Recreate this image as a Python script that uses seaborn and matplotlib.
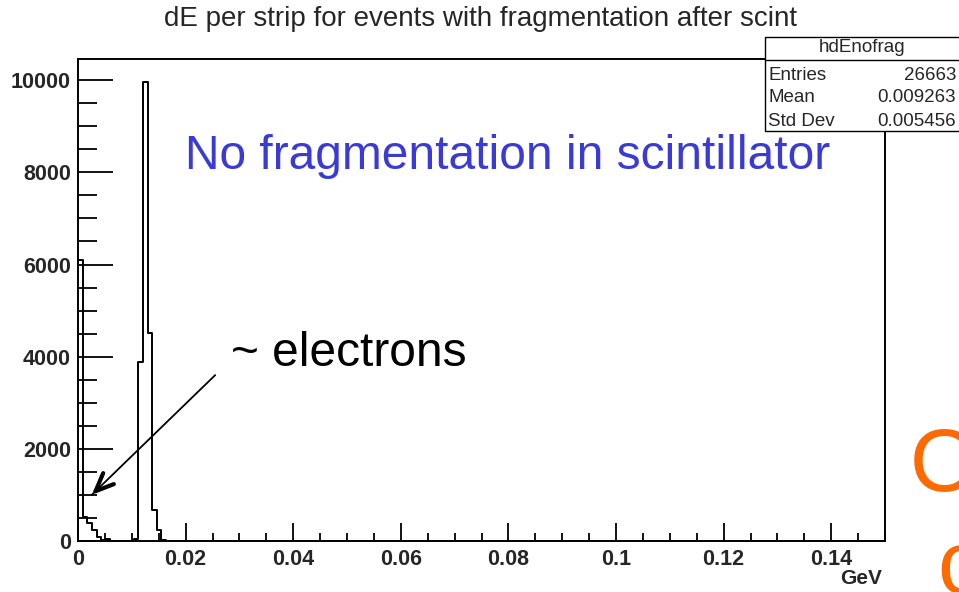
import numpy as np
import pandas as pd
import matplotlib
matplotlib.use("Agg")
import matplotlib.pyplot as plt
from matplotlib.patches import Rectangle
from matplotlib.ticker import MultipleLocator
import seaborn as sns

# ---- data ----
bin_width = 0.15 / 174          # GeV per bin
counts = [6100, 520, 380, 240, 90, 20, 40, 10, 10, 5, 0, 0, 40,
          3890, 9960, 4510, 670, 240, 20]
title = "dE per strip for events with fragmentation after scint"
x_label = "GeV"
x_ticks = [0, 0.02, 0.04, 0.06, 0.08, 0.1, 0.12, 0.14]
x_ticklabels = ["0", "0.02", "0.04", "0.06", "0.08", "0.1", "0.12", "0.14"]
y_ticks = [0, 2000, 4000, 6000, 8000, 10000]
stats_name = "hdEnofrag"
stats_rows = [("Entries", "26663"), ("Mean", "0.009263"), ("Std Dev", "0.005456")]

n_bins = 174
full_counts = np.zeros(n_bins)
full_counts[:len(counts)] = counts
centers = (np.arange(n_bins) + 0.5) * bin_width
df = pd.DataFrame({"E": centers, "w": full_counts})

sns.set_style("white")
plt.rcParams["font.family"] = ["Liberation Sans", "DejaVu Sans"]

W, H = 959, 592
fig = plt.figure(figsize=(W / 100, H / 100), dpi=100)
ax = fig.add_axes([78 / W, 1 - 541 / H, (885 - 78) / W, (541 - 59) / H])

sns.histplot(data=df, x="E", weights="w", binwidth=bin_width,
             binrange=(0, n_bins * bin_width), element="step",
             fill=False, color="black", linewidth=1.4, ax=ax)

ax.set_xlim(0, 0.15)
ax.set_ylim(0, 10460)
ax.set_xlabel("")
ax.set_ylabel("")
for s in ax.spines.values():
    s.set_linewidth(1.4)
    s.set_color("black")

ax.set_xticks(x_ticks)
ax.set_xticklabels(x_ticklabels)
ax.set_yticks(y_ticks)
ax.set_yticklabels([str(v) for v in y_ticks])
ax.xaxis.set_minor_locator(MultipleLocator(0.005))
ax.yaxis.set_minor_locator(MultipleLocator(500))
ax.tick_params(axis="both", which="both", direction="in", color="black",
               width=1.3, labelsize=15.5, bottom=True, left=True)
ax.tick_params(axis="x", which="major", length=13, pad=6)
ax.tick_params(axis="x", which="minor", length=6)
ax.tick_params(axis="y", which="major", length=25, pad=5)
ax.tick_params(axis="y", which="minor", length=14)
for lab in ax.get_xticklabels() + ax.get_yticklabels():
    lab.set_fontweight("bold")

def px(x, y):
    return x / W, 1 - y / H

fig.text(*px(480, 19), title, ha="center", va="center", fontsize=20)
fig.text(*px(882, 579), x_label, ha="right", va="center", fontsize=15,
         fontweight="bold")

fig.text(*px(185, 157), "No fragmentation in scintillator", ha="left",
         va="center", fontsize=34.5, color="#3a3ad6")
fig.text(*px(231, 354), "~ electrons", ha="left", va="center",
         fontsize=34.5, color="black")
tip = (0.00255, 1000)
tail = (0.0255, 3600)
ax.annotate("", xy=tip, xytext=tail,
            arrowprops=dict(arrowstyle="-", color="black", lw=1.3,
                            shrinkA=0, shrinkB=0))
head_from = (tip[0] + (tail[0] - tip[0]) * 0.05,
             tip[1] + (tail[1] - tip[1]) * 0.05)
ax.annotate("", xy=tip, xytext=head_from,
            arrowprops=dict(arrowstyle="->,head_length=1.3,head_width=0.55",
                            color="black", lw=3.0, shrinkA=0, shrinkB=0,
                            joinstyle="round", capstyle="round"))

# orange clipped slide text at the right edge
fig.text(*px(910, 468), "O", ha="left", va="center", fontsize=64,
         color="#ff6a00")
fig.text(*px(937, 570), "c", ha="left", va="center", fontsize=64,
         color="#ff6a00")

# stats box
box_l, box_t, box_b, sep = 765, 37, 131, 60
fig.patches.append(Rectangle(px(box_l, box_b), (W + 5 - box_l) / W,
                             (box_b - box_t) / H, transform=fig.transFigure,
                             facecolor="white", edgecolor="black", lw=1.0,
                             zorder=5))
fig.add_artist(plt.Line2D([box_l / W, 1], [1 - sep / H, 1 - sep / H],
                          transform=fig.transFigure, color="black", lw=1.0,
                          zorder=6))
fig.text(*px(862, 48), stats_name, ha="center", va="center", fontsize=13.5,
         zorder=7)
for i, (k, v) in enumerate(stats_rows):
    yy = 75 + i * 23
    fig.text(*px(768, yy), k, ha="left", va="center", fontsize=13.5, zorder=7)
    fig.text(*px(956, yy), v, ha="right", va="center", fontsize=13.5, zorder=7)

fig.savefig("out.png", dpi=100)
